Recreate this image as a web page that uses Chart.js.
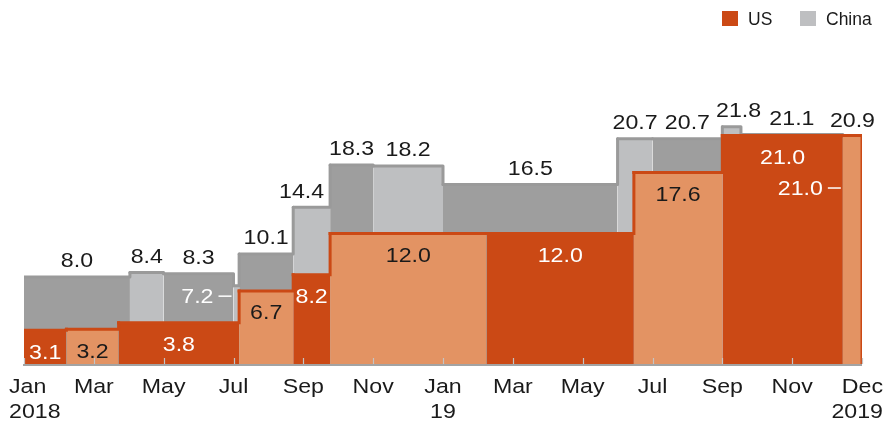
<!DOCTYPE html>
<html>
<head>
<meta charset="utf-8">
<script src="https://cdn.jsdelivr.net/npm/chart.js@4.4.1/dist/chart.umd.min.js"></script>
<style>
  html, body { margin: 0; padding: 0; background: #fff; }
  #wrap { width: 891px; height: 425px; }
</style>
</head>
<body>
<div id="wrap"><canvas id="tariffChart" width="891" height="425"></canvas></div>
<script>
// average tariff (%) each side puts on the other's goods, step changes by date
const usDates = ['2018-01-01', '2018-02-07', '2018-03-23', '2018-07-06', '2018-08-23', '2018-09-24', '2019-02-08', '2019-06-15', '2019-09-01', '2019-12-15'];
const usValues = [3.1, 3.2, 3.8, 6.7, 8.2, 12.0, 12.0, 17.6, 21.0, 21.0];

const chinaDates = ['2018-01-01', '2018-04-02', '2018-05-01', '2018-07-01', '2018-07-06', '2018-08-23', '2018-09-24', '2018-11-01', '2019-01-01', '2019-06-01', '2019-07-01', '2019-09-01', '2019-09-17', '2019-12-15'];
const chinaValues = [8.0, 8.4, 8.3, 7.2, 10.1, 14.4, 18.3, 18.2, 16.5, 20.7, 20.7, 21.8, 21.1, 20.9];

const startDate = '2018-01-01';
const endDate = '2020-01-01';

const tickMonths = [0, 2, 4, 6, 8, 10, 12, 14, 16, 18, 20, 22, 24];
const tickLabels = [['Jan', '2018'], ['Mar'], ['May'], ['Jul'], ['Sep'], ['Nov'], ['Jan', '19'], ['Mar'], ['May'], ['Jul'], ['Sep'], ['Nov'], ['Dec', '2019']];

const seriesNames = ['US', 'China'];

// colours
const US_DARK = '#cb4915';
const US_LIGHT = '#e39363';
const CN_DARK = '#9e9e9e';
const CN_LIGHT = '#bebfc1';
const CN_LINE = '#9a9a9a';
const TEXT = '#1a1a1a';
const FONT = '"Liberation Sans", Arial, sans-serif';
const STRETCH = 1.13;   // the original lettering is set wide

// label tweaks (pixels) for a few crowded steps
const chinaNudge = { 5: -10, 11: 7 };
const callouts = { us: { 9: 52 }, china: { 3: 10 } };

function toMonths(s) {
	const [y, m, d] = s.split('-').map(Number);
	const [y0, m0] = startDate.split('-').map(Number);
	const days = new Date(y, m, 0).getDate();
	return (y - y0) * 12 + (m - m0) + (d - 1) / days;
}

function steps(dates, values, closeDown) {
	const pts = dates.map((d, i) => ({ x: toMonths(d), y: values[i] }));
	pts.push({ x: toMonths(endDate), y: values[values.length - 1] });
	if (closeDown) pts.push({ x: toMonths(endDate), y: 0 });
	return pts;
}

const usPoints = steps(usDates, usValues, true);
const chinaPoints = steps(chinaDates, chinaValues, false);

function wideText(ctx, str, px, py, align) {
	ctx.save();
	ctx.translate(px, py);
	ctx.scale(STRETCH, 1);
	ctx.textAlign = align;
	ctx.fillText(str, 0, 0);
	ctx.restore();
}

const labelPlugin = {
	id: 'stepLabels',
	afterDatasetsDraw(chart) {
		const { ctx, chartArea, scales: { x, y } } = chart;
		const size = 20.5;
		const capHalf = size * 0.716 / 2;
		ctx.save();
		ctx.font = size + 'px ' + FONT;
		ctx.textBaseline = 'alphabetic';

		function callout(str, startPx, centerY) {
			ctx.fillStyle = '#fff';
			wideText(ctx, str, startPx - 20, centerY + capHalf, 'right');
			ctx.strokeStyle = '#fff';
			ctx.lineWidth = 1.5;
			ctx.beginPath();
			ctx.moveTo(startPx - 15, centerY + 0.5);
			ctx.lineTo(startPx - 2, centerY + 0.5);
			ctx.stroke();
		}

		// China: values above the grey steps
		chinaValues.forEach((v, i) => {
			const x0 = x.getPixelForValue(chinaPoints[i].x);
			const x1 = x.getPixelForValue(chinaPoints[i + 1].x);
			const top = y.getPixelForValue(v);
			const str = v.toFixed(1);
			if (callouts.china[i] !== undefined) {
				callout(str, x0, top + callouts.china[i]);
				return;
			}
			ctx.fillStyle = TEXT;
			wideText(ctx, str, (x0 + x1) / 2 + (chinaNudge[i] || 0), top - 17 + capHalf, 'center');
		});

		// US: values inside the orange steps
		usValues.forEach((v, i) => {
			const x0 = x.getPixelForValue(usPoints[i].x);
			const x1 = x.getPixelForValue(usPoints[i + 1].x);
			const top = y.getPixelForValue(v);
			const str = v.toFixed(1);
			if (callouts.us[i] !== undefined) {
				callout(str, x0, top + callouts.us[i]);
				return;
			}
			ctx.fillStyle = i % 2 ? TEXT : '#fff';
			wideText(ctx, str, (x0 + x1) / 2, top + 21 + capHalf, 'center');
		});

		// x axis line, small inward ticks and month labels
		const base = chartArea.bottom + 1;
		ctx.strokeStyle = '#a3a3a3';
		ctx.lineWidth = 2;
		ctx.beginPath();
		ctx.moveTo(chartArea.left - 1, base);
		ctx.lineTo(chartArea.right, base);
		ctx.stroke();

		ctx.strokeStyle = '#c4c4c4';
		ctx.lineWidth = 1.2;
		tickMonths.forEach(m => {
			const px = Math.round(x.getPixelForValue(m)) + 0.5;
			ctx.beginPath();
			ctx.moveTo(px, base - 1);
			ctx.lineTo(px, base - 7);
			ctx.stroke();
		});

		ctx.fillStyle = TEXT;
		const minLeft = 9, maxRight = chart.width - 8;
		tickMonths.forEach((m, i) => {
			const lines = tickLabels[i];
			const px = x.getPixelForValue(m);
			const widths = lines.map(s => ctx.measureText(s).width * STRETCH);
			const blockW = Math.max(...widths);
			let align = 'center', ax = px;
			if (px - blockW / 2 < minLeft) { align = 'left'; ax = minLeft; }
			else if (px + blockW / 2 > maxRight) { align = 'right'; ax = maxRight; }
			lines.forEach((s, j) => {
				wideText(ctx, s, ax, base + 28 + j * 25, align);
			});
		});
		ctx.restore();
	}
};

const legendPlugin = {
	id: 'topLegend',
	afterDraw(chart) {
		const { ctx } = chart;
		const swatches = [US_DARK, CN_LIGHT];
		const boxX = [722, 800];
		ctx.save();
		ctx.font = '17.5px ' + FONT;
		ctx.textBaseline = 'alphabetic';
		seriesNames.forEach((name, i) => {
			ctx.fillStyle = swatches[i];
			ctx.fillRect(boxX[i], 11, 16, 15);
			ctx.fillStyle = TEXT;
			ctx.fillText(name, boxX[i] + 26, 25);
		});
		ctx.restore();
	}
};

const ctxTariff = document.getElementById('tariffChart').getContext('2d');

new Chart(ctxTariff, {
	type: 'line',
	data: {
		datasets: [{
			label: seriesNames[0],
			data: usPoints,
			stepped: true,
			fill: 'origin',
			borderColor: US_DARK,
			backgroundColor: US_DARK,
			borderWidth: 3,
			borderCapStyle: 'square',
			borderJoinStyle: 'miter',
			pointRadius: 0,
			segment: {
				backgroundColor: c => c.p0DataIndex % 2 ? US_LIGHT : US_DARK
			}
		}, {
			label: seriesNames[1],
			data: chinaPoints,
			stepped: true,
			fill: 'origin',
			borderColor: CN_LINE,
			backgroundColor: CN_DARK,
			borderWidth: 3,
			borderCapStyle: 'round',
			borderJoinStyle: 'round',
			pointRadius: 0,
			segment: {
				backgroundColor: c => c.p0DataIndex % 2 ? CN_LIGHT : CN_DARK
			}
		}]
	},
	options: {
		responsive: false,
		animation: false,
		events: [],
		parsing: false,
		layout: { padding: { left: 24, right: 29, top: 92, bottom: 61 } },
		scales: {
			x: { type: 'linear', min: 0, max: 24, display: false },
			y: { min: 0, max: 25, display: false }
		},
		plugins: {
			legend: { display: false },
			tooltip: { enabled: false }
		}
	},
	plugins: [labelPlugin, legendPlugin]
});
</script>
</body>
</html>
